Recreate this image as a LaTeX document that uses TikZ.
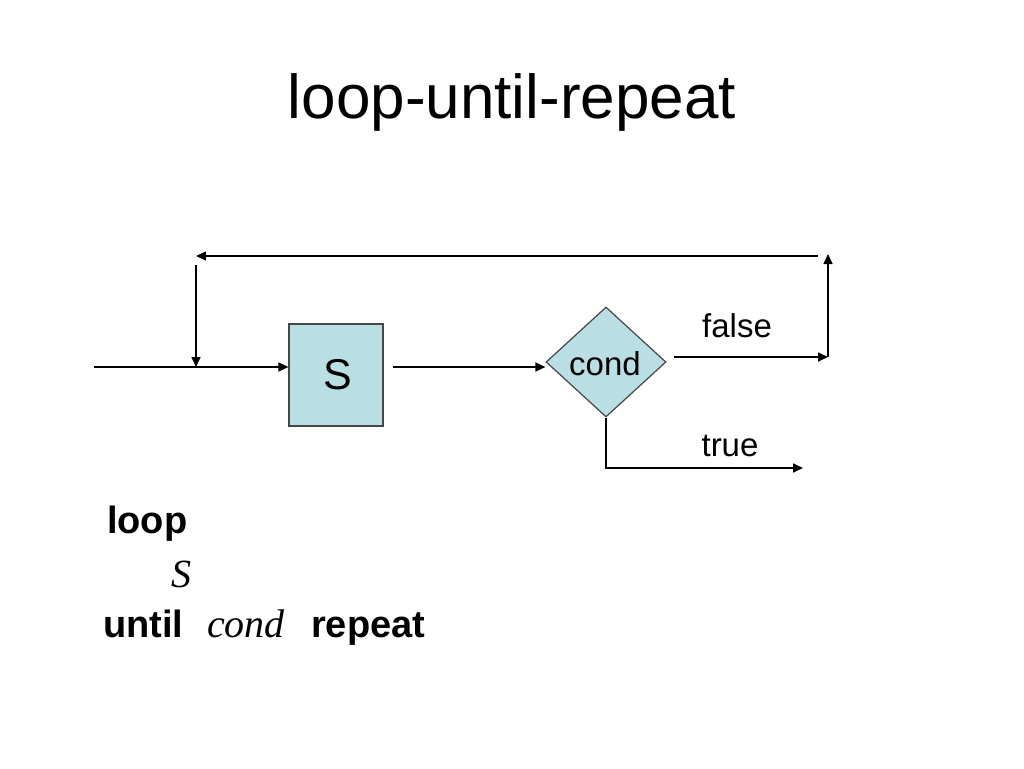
\documentclass[tikz,border=0pt]{standalone}
\usepackage{fontspec}
\setmainfont{Liberation Sans}
\newfontfamily\serifit{Liberation Serif}
\usetikzlibrary{shapes.geometric,arrows.meta}
\definecolor{boxfill}{RGB}{185,222,228}
\definecolor{boxline}{RGB}{70,70,70}
\tikzset{
  conn/.style={line width=1.6pt, -{Triangle[length=10pt,width=9pt]}},
  lbl/.style={font=\fontsize{33}{36}\selectfont, inner sep=0pt},
  code/.style={font=\fontsize{38}{42}\selectfont\bfseries, inner sep=0pt, anchor=base west},
  codeit/.style={font=\fontsize{40}{44}\selectfont\serifit\itshape, inner sep=0pt, anchor=base west},
}
\begin{document}
\begin{tikzpicture}[x=1pt,y=-1pt]
\path[use as bounding box, fill=white] (0,0) rectangle (1024,768);
\node[font=\fontsize{62}{70}\selectfont, inner sep=0pt] (title) at (512,102) {loop-until-repeat};

\node[draw=boxline, fill=boxfill, line width=1.2pt, minimum width=94pt, minimum height=102pt, inner sep=0pt,
      font=\fontsize{43}{46}\selectfont] (S) at (336,375) {\hspace*{3pt}S};
\node[draw=boxline, fill=boxfill, line width=1.2pt, diamond, aspect=1.09, minimum width=120pt, minimum height=110pt, inner sep=0pt] (cond) at (606,362) {};
\node[lbl] (condtxt) at (605,364) {cond};

\coordinate (in) at (94,367);
\coordinate (join) at (196,367);
\coordinate (outS) at (393,367);
\coordinate (fstart) at (674,357);
\coordinate (fend) at (828,357);
\coordinate (rtop) at (828,254);
\coordinate (tstart) at (818,256);
\coordinate (tend) at (196,256);
\coordinate (dstart) at (196,265);
\coordinate (tcorner) at (606,468);
\coordinate (tout) at (803,468);

\draw[conn] (in) -- (in -| S.west);
\draw[conn] (outS) -- (outS -| cond.west);
\draw[conn] (fstart) -- (fend);
\draw[conn] (fend) -- (rtop);
\draw[conn] (tstart) -- (tend);
\draw[conn] (dstart) -- (join);
\draw[conn] (cond.south) -- (tcorner) -- (tout);

\node[lbl] (false) at (737,326) {false};
\node[lbl] (true) at (730,446) {true};

\node[code] (loop) at (107,533) {loop};
\node[codeit] (s2) at (171,587) {S};
\node[code] (until) at (103,637) {until};
\node[codeit] (c2) at (207,637) {cond};
\node[code] (repeat) at (311,637) {repeat};
\end{tikzpicture}
\end{document}
